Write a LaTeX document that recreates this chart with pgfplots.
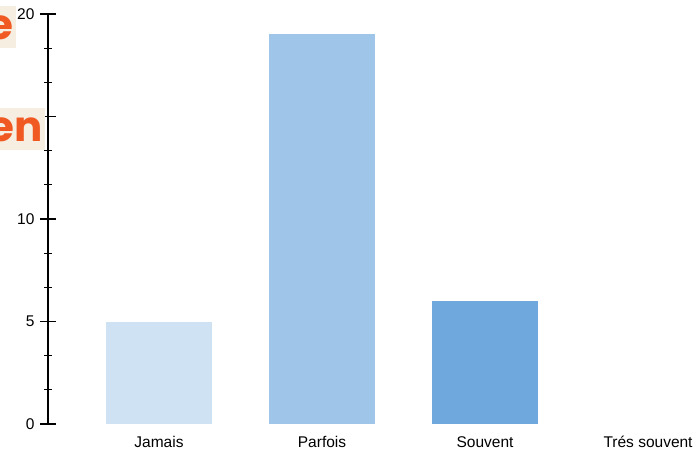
\documentclass[border=0pt]{standalone}
\usepackage{pgfplots}
\pgfplotsset{compat=1.18}
\usepackage{fontspec}
\setmainfont{Liberation Sans}
\newfontfamily\popfont{Poppins}
\definecolor{c1}{HTML}{CFE2F3}
\definecolor{c2}{HTML}{9FC5E8}
\definecolor{c3}{HTML}{6FA8DC}
\definecolor{beige}{HTML}{F6EEE1}
\definecolor{orng}{HTML}{F05A22}
\begin{document}
\begin{tikzpicture}[x=1pt,y=1pt]
\useasboundingbox (0,0) rectangle (695,450);
\begin{axis}[
  at={(48pt,26pt)}, anchor=south west,
  width=647pt, height=410pt, scale only axis,
  xmin=-0.681, xmax=3.288, ymin=0, ymax=20,
  axis y line=left, axis x line=bottom,
  x axis line style={draw=none},
  y axis line style={-, line width=1.4pt},
  xtick={0,1,2,3},
  xticklabels={Jamais,Parfois,Souvent,Trés souvent},
  major x tick style={draw=none},
  ytick={0,5,10,15,20},
  minor y tick num=2,
  tick align=center,
  major tick length=16pt,
  minor tick length=7pt,
  every tick/.style={black, line width=1.2pt},
  ticklabel style={font=\fontsize{15.5}{18}\selectfont},
  /pgf/number format/assume math mode=true,
  xticklabel style={yshift=4pt, inner sep=0.5pt, text height=11.2pt, text depth=0.5pt},
  yticklabel style={xshift=-2pt},
  ybar, bar width=106pt, bar shift=0pt,
  clip=false,
]
\addplot[fill=c1, draw=none] coordinates {(0,5)};
\addplot[fill=c2, draw=none] coordinates {(1,19)};
\addplot[fill=c3, draw=none] coordinates {(2,6)};
\addplot[fill=none, draw=none] coordinates {(3,0)};
\end{axis}
\fill[beige] (-5,402) rectangle (16,444);
\fill[beige] (-5,300) rectangle (45,342);
\node[anchor=base east, inner sep=0pt, text=orng, font=\popfont\bfseries\fontsize{42}{42}\selectfont] at (14,410) {e};
\node[anchor=base east, inner sep=0pt, text=orng, font=\popfont\bfseries\fontsize{42}{42}\selectfont] at (43,308.3) {en};
\end{tikzpicture}
\end{document}
